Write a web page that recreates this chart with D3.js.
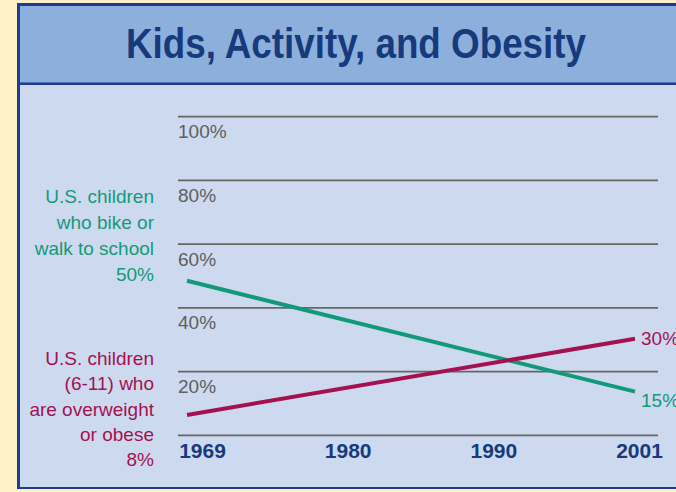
<!DOCTYPE html>
<html><head><meta charset="utf-8">
<script src="https://cdn.jsdelivr.net/npm/d3@7"></script>
<style>html,body{margin:0;padding:0;background:#fff1c9;}svg{display:block;}</style>
</head><body><svg id="c" width="676" height="492"></svg>
<script>
const title = "Kids, Activity, and Obesity";
const years = [1969, 2001];
const yearLabels = ["1969", "1980", "1990", "2001"];
const yTicks = [20, 40, 60, 80, 100];
const bikeWalk = [48.5, 13.7];
const overweight = [6.4, 30.3];
const bikeWalkEndLabel = "15%";
const overweightEndLabel = "30%";
const bikeWalkLegend = ["U.S. children", "who bike or", "walk to school", "50%"];
const overweightLegend = ["U.S. children", "(6-11) who", "are overweight", "or obese", "8%"];

const C = {cream:"#fff1c9", border:"#1b3f8c", band:"#8dafdc", plot:"#cdd9ef", navy:"#173a7d",
  green:"#129a78", red:"#a3124f", grid:"#666666", tick:"#5e5e5e"};
const svg = d3.select("#c");

// frame
svg.append("rect").attr("x",0).attr("y",0).attr("width",676).attr("height",492).attr("fill",C.cream);
svg.append("rect").attr("x",17).attr("y",3).attr("width",680).attr("height",486).attr("fill",C.border);
svg.append("rect").attr("x",20).attr("y",6).attr("width",680).attr("height",76).attr("fill",C.band);
svg.append("rect").attr("x",20).attr("y",85).attr("width",680).attr("height",402).attr("fill",C.plot);
svg.append("line").attr("x1",20).attr("x2",676).attr("y1",82.5).attr("y2",82.5).attr("stroke","#4f72b3").attr("stroke-width",1);

svg.append("text").attr("x",356).attr("y",58).attr("text-anchor","middle")
  .attr("font-family","'Liberation Sans Narrow','Liberation Sans',Arial,sans-serif")
  .attr("font-weight","bold").attr("font-size",42).attr("fill",C.navy)
  .attr("textLength",460).attr("lengthAdjust","spacingAndGlyphs").text(title);

const y = d3.scaleLinear().domain([0,100]).range([435.3,116.7]);
const x = d3.scaleLinear().domain(years).range([187,635]);
const xl = d3.scalePoint().domain(yearLabels).range([202,639]);

// gridlines
const grid = svg.append("g");
grid.selectAll("line").data([0].concat(yTicks)).join("line")
  .attr("x1",178).attr("x2",658).attr("y1",d=>y(d)).attr("y2",d=>y(d))
  .attr("stroke",C.grid).attr("stroke-width",1.8);
grid.selectAll("text").data(yTicks).join("text")
  .attr("x",178).attr("y",d=>y(d)+21.5)
  .attr("font-family","'Liberation Sans',Arial,sans-serif").attr("font-size",19)
  .attr("fill",C.tick).text(d=>d+"%");

// year labels
const xAxis = d3.axisBottom(xl).tickSize(0).tickPadding(0);
const ga = svg.append("g").attr("transform","translate(0,443)").call(xAxis);
ga.select(".domain").remove();
ga.selectAll("text").attr("dy",0).attr("y",15)
  .attr("font-family","'Liberation Sans',Arial,sans-serif").attr("font-weight","bold")
  .attr("font-size",21).attr("fill",C.navy);

// lines
const line = d3.line().x((d,i)=>x(years[i])).y(d=>y(d));
svg.append("path").attr("d",line(bikeWalk)).attr("fill","none").attr("stroke",C.green).attr("stroke-width",4);
svg.append("path").attr("d",line(overweight)).attr("fill","none").attr("stroke",C.red).attr("stroke-width",4);

const font = "'Liberation Sans',Arial,sans-serif";
svg.append("text").attr("x",x(years[1])+6).attr("y",y(overweight[1])+6)
  .attr("font-family",font).attr("font-size",19).attr("fill",C.red).text(overweightEndLabel);
svg.append("text").attr("x",x(years[1])+6).attr("y",y(bikeWalk[1])+15)
  .attr("font-family",font).attr("font-size",19).attr("fill",C.green).text(bikeWalkEndLabel);

// legends
svg.append("g").selectAll("text").data(bikeWalkLegend).join("text")
  .attr("x",154).attr("y",(d,i)=>203+i*26).attr("text-anchor","end")
  .attr("font-family",font).attr("font-size",19).attr("fill",C.green).text(d=>d);
svg.append("g").selectAll("text").data(overweightLegend).join("text")
  .attr("x",154).attr("y",(d,i)=>365+i*25.3).attr("text-anchor","end")
  .attr("font-family",font).attr("font-size",19).attr("fill",C.red).text(d=>d);
</script></body></html>
